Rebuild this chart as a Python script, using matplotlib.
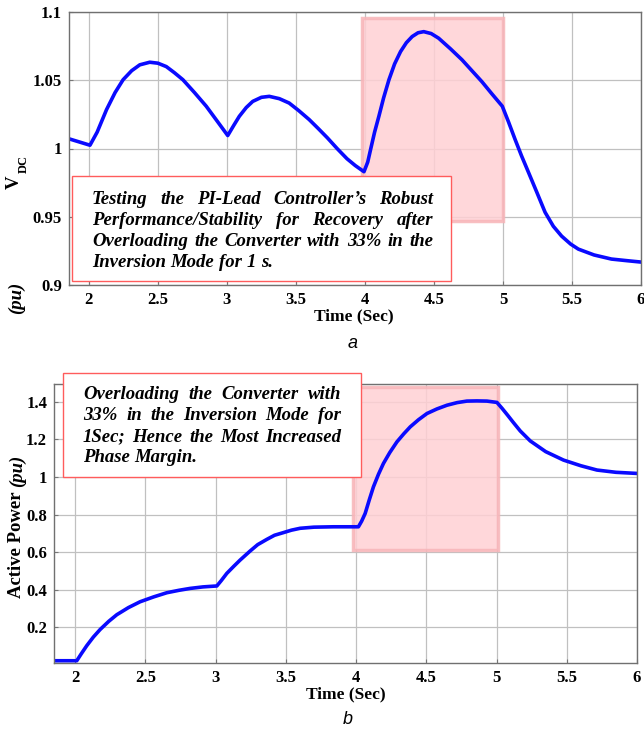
import matplotlib
matplotlib.use("Agg")
import matplotlib.pyplot as plt
from matplotlib.patches import Rectangle
from matplotlib.transforms import IdentityTransform

# panel a: DC-link voltage (pu)
t_vdc = [1.856, 2.008, 2.06, 2.128, 2.19, 2.248, 2.31, 2.369, 2.441, 2.50, 2.561, 2.62,
         2.681, 2.765, 2.85, 2.93, 3.006, 3.05, 3.09, 3.14, 3.187, 3.25, 3.307, 3.38,
         3.451, 3.52, 3.596, 3.66, 3.728, 3.80, 3.87, 3.93, 3.993, 4.02, 4.041, 4.07,
         4.101, 4.135, 4.174, 4.215, 4.258, 4.30, 4.342, 4.385, 4.426, 4.48, 4.534, 4.62,
         4.703, 4.775, 4.847, 4.92, 4.995, 5.04, 5.088, 5.135, 5.185, 5.245, 5.305, 5.365,
         5.425, 5.49, 5.546, 5.66, 5.786, 5.9, 6.0]
vdc = [1.0071, 1.0024, 1.012, 1.0285, 1.041, 1.0504, 1.057, 1.0613, 1.0632, 1.0625, 1.060, 1.0555,
       1.0504, 1.041, 1.031, 1.020, 1.0095, 1.017, 1.0236, 1.030, 1.0345, 1.0375, 1.0382, 1.0365,
       1.0333, 1.0278, 1.0212, 1.0148, 1.0078, 0.9998, 0.9925, 0.9875, 0.983, 0.990, 0.9993, 1.012,
       1.0236, 1.037, 1.0504, 1.062, 1.071, 1.0775, 1.082, 1.0848, 1.0856, 1.0842, 1.0808, 1.073,
       1.065, 1.057, 1.049, 1.040, 1.031, 1.0195, 1.0066, 0.9945, 0.9825, 0.968, 0.9533, 0.943,
       0.9358, 0.930, 0.9263, 0.922, 0.919, 0.9178, 0.9168]

# panel b: active power (pu)
t_p = [1.85, 2.012, 2.045, 2.083, 2.13, 2.178, 2.24, 2.297, 2.38, 2.463, 2.56, 2.653, 2.74,
       2.819, 2.91, 3.009, 3.04, 3.08, 3.13, 3.175, 3.246, 3.30, 3.365, 3.42, 3.483, 3.54,
       3.602, 3.70, 3.84, 4.017, 4.04, 4.065, 4.095, 4.124, 4.16, 4.195, 4.24, 4.291, 4.34,
       4.386, 4.445, 4.505, 4.575, 4.647, 4.72, 4.789, 4.86, 4.932, 5.003, 5.04, 5.08,
       5.12, 5.169, 5.24, 5.35, 5.477, 5.6, 5.715, 5.85, 6.0]
power = [0.022, 0.022, 0.06, 0.102, 0.148, 0.188, 0.232, 0.267, 0.305, 0.336, 0.362, 0.384, 0.397,
         0.407, 0.415, 0.42, 0.448, 0.487, 0.525, 0.558, 0.606, 0.64, 0.668, 0.69, 0.704, 0.717,
         0.727, 0.733, 0.735, 0.735, 0.765, 0.806, 0.88, 0.948, 1.015, 1.072, 1.13, 1.187, 1.23,
         1.267, 1.305, 1.338, 1.362, 1.382, 1.396, 1.404, 1.405, 1.404, 1.397, 1.365, 1.328,
         1.29, 1.245, 1.192, 1.135, 1.09, 1.06, 1.037, 1.025, 1.019]

xticks = [2, 2.5, 3, 3.5, 4, 4.5, 5, 5.5, 6]
xlabels = ["2", "2.5", "3", "3.5", "4", "4.5", "5", "5.5", "6"]
yticks_a = [0.9, 0.95, 1.0, 1.05, 1.1]
ylabels_a = ["0.9", "0.95", "1", "1.05", "1.1"]
yticks_b = [0.2, 0.4, 0.6, 0.8, 1.0, 1.2, 1.4]
ylabels_b = ["0.2", "0.4", "0.6", "0.8", "1", "1.2", "1.4"]

note_a = ["Testing the PI-Lead Controller\u2019s Robust",
          "Performance/Stability for Recovery after",
          "Overloading the Converter with 33% in the",
          "Inversion Mode for 1 s."]
note_b = ["Overloading the Converter with",
          "33% in the Inversion Mode for",
          "1Sec; Hence the Most Increased",
          "Phase Margin."]

SERIF = "Liberation Serif"
W, H = 644, 733
fig = plt.figure(figsize=(W / 100, H / 100), dpi=100)


def px_axes(left, top, right, bottom):
    return fig.add_axes([left / W, 1 - bottom / H, (right - left) / W, (bottom - top) / H])


def style(ax, yt, yl):
    ax.set_xticks(xticks)
    ax.set_xticklabels(xlabels)
    ax.set_yticks(yt)
    ax.set_yticklabels(yl)
    for lab in ax.get_xticklabels() + ax.get_yticklabels():
        lab.set_fontfamily(SERIF)
        lab.set_fontweight("bold")
        lab.set_fontsize(12)
    ax.tick_params(direction="in", length=3, color="#777777", pad=5)
    ax.grid(True, color="#c0c0c0", lw=0.9)
    ax.set_axisbelow(True)
    for s in ax.spines.values():
        s.set_color("#707070")
        s.set_linewidth(1.0)


def justified(lines, x0, x1, baselines, size):
    r = fig.canvas.get_renderer()
    kw = dict(family=SERIF, weight="bold", style="italic", fontsize=size)
    sp = fig.text(0, 0, "a b", **kw)
    sa = fig.text(0, 0, "ab", **kw)
    space = sp.get_window_extent(r).width - sa.get_window_extent(r).width
    sp.remove()
    sa.remove()
    for i, (line, yb) in enumerate(zip(lines, baselines)):
        words = line.split()
        objs = [fig.text(0, 0, w, transform=IdentityTransform(), va="baseline", ha="left",
                         zorder=5, **kw) for w in words]
        widths = [o.get_window_extent(r).width for o in objs]
        if i == len(lines) - 1 or len(words) == 1:
            gap = space
        else:
            gap = (x1 - x0 - sum(widths)) / (len(words) - 1)
        x = x0
        for o, w in zip(objs, widths):
            o.set_position((x, H - yb))
            x += w + gap


def ftext(x, y, s, **kw):
    return fig.text(x / W, 1 - y / H, s, ha="center", va="center", **kw)


# ---- panel a ----
ax1 = px_axes(69, 12, 641, 285)
ax1.add_patch(Rectangle((3.98, 0.9467), 1.02, 0.1489, facecolor="#ffd0d4", edgecolor="#f7b4b8",
                        lw=2.5, alpha=0.85, zorder=1))
ax1.plot(t_vdc, vdc, color="#0a0aff", lw=2.6, zorder=2, solid_joinstyle="round")
ax1.set_xlim(1.856, 6)
ax1.set_ylim(0.9, 1.1)
style(ax1, yticks_a, ylabels_a)
ax1.add_patch(Rectangle((1.878, 0.9029), 4.62 - 1.878, 0.9796 - 0.9029, facecolor="white",
                        edgecolor="#ff5c5c", lw=1.0, zorder=4))

# ---- panel b ----
ax2 = px_axes(54, 384, 637, 663)
ax2.add_patch(Rectangle((3.977, 0.612), 5.01 - 3.977, 1.48 - 0.612, facecolor="#ffd0d4",
                        edgecolor="#f7b4b8", lw=2.5, alpha=0.85, zorder=1))
ax2.plot(t_p, power, color="#0a0aff", lw=2.6, zorder=2, solid_joinstyle="round")
ax2.set_xlim(1.85, 6)
ax2.set_ylim(0.01, 1.495)
style(ax2, yticks_b, ylabels_b)
ax2.add_patch(Rectangle((1.914, 1.0), 4.037 - 1.914, 1.556 - 1.0, facecolor="white",
                        edgecolor="#ff5c5c", lw=1.0, zorder=4, clip_on=False))

# axis titles
ftext(354, 316, "Time (Sec)", family=SERIF, weight="bold", fontsize=12.5)
ftext(346, 694, "Time (Sec)", family=SERIF, weight="bold", fontsize=12.5)
ftext(14, 182, "V", family=SERIF, weight="bold", fontsize=13.5, rotation=90)
ftext(24, 164, "DC", family=SERIF, weight="bold", fontsize=9, rotation=90)
ftext(16, 298, "(pu)", family=SERIF, weight="bold", style="italic", fontsize=13.5, rotation=90)
ftext(17, 545, "Active Power", family=SERIF, weight="bold", fontsize=13.5, rotation=90)
ftext(17, 471, "(pu)", family=SERIF, weight="bold", style="italic", fontsize=13.5, rotation=90)

# captions
ftext(353, 343, "a", family="Liberation Sans", style="italic", fontsize=13)
ftext(348, 720, "b", family="Liberation Sans", style="italic", fontsize=13)

justified(note_a, 92, 433, [204, 225, 246, 267], 13.5)
justified(note_b, 83, 341, [399, 420, 441.5, 462.5], 13.5)

fig.savefig("out.png", dpi=100)
